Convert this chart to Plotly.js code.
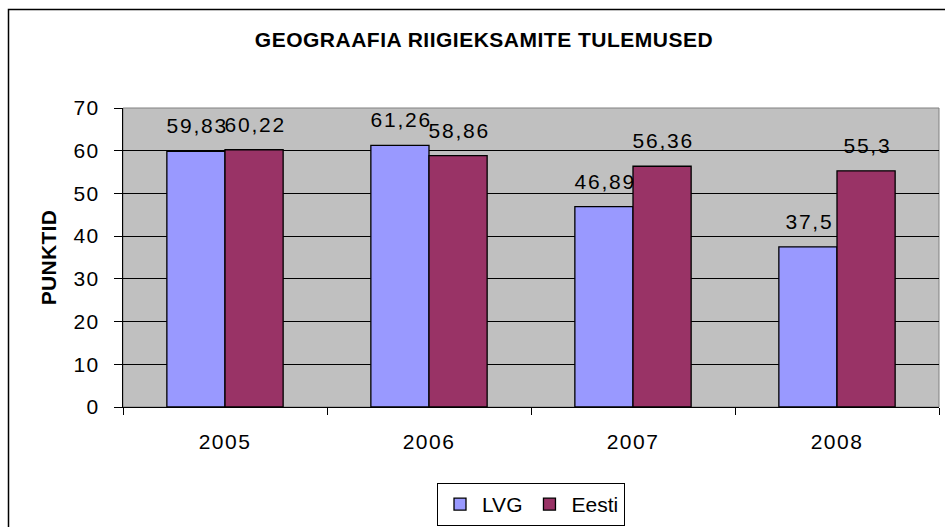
<!DOCTYPE html>
<html>
<head>
<meta charset="utf-8">
<script src="https://cdn.plot.ly/plotly-3.0.1.min.js"></script>
<style>
  html, body { margin: 0; padding: 0; background: #fff; overflow: hidden; }
  #chart { width: 945px; height: 527px; }
  #chart svg .annotation-text { letter-spacing: 1.8px; }
  #chart svg .xtick text, #chart svg .ytick text { letter-spacing: 1.5px; }
  #chart svg .gtitle { letter-spacing: 0.5px; }
  #chart svg .ytitle { letter-spacing: 0.3px; }
</style>
</head>
<body>
<div id="chart"></div>
<script>
const years = ['2005', '2006', '2007', '2008'];
const lvgValues = [59.83, 61.26, 46.89, 37.5];
const eestiValues = [60.22, 58.86, 56.36, 55.3];
const seriesNames = ['LVG', 'Eesti'];
const yTicks = [0, 10, 20, 30, 40, 50, 60, 70];

const fontFamily = 'Liberation Sans, Arial, sans-serif';
const labelFont = { family: fontFamily, size: 21, color: '#000' };
const fmt = v => String(v).replace('.', ',');

const traces = [
  {
    type: 'bar', name: seriesNames[0], x: years, y: lvgValues,
    marker: { color: '#9999FF', line: { color: '#000', width: 1.3 } },
    hoverinfo: 'none'
  },
  {
    type: 'bar', name: seriesNames[1], x: years, y: eestiValues,
    marker: { color: '#993366', line: { color: '#000', width: 1.3 } },
    hoverinfo: 'none'
  }
];

const barHalf = 29;
const annotations = [];
years.forEach((yr, i) => {
  annotations.push({ x: i, y: lvgValues[i], xref: 'x', yref: 'y', text: fmt(lvgValues[i]),
    showarrow: false, yanchor: 'bottom', xanchor: 'center', xshift: -barHalf + 1, yshift: 12, font: labelFont });
  annotations.push({ x: i, y: eestiValues[i], xref: 'x', yref: 'y', text: fmt(eestiValues[i]),
    showarrow: false, yanchor: 'bottom', xanchor: 'center', xshift: barHalf + 1, yshift: 12, font: labelFont });
});

const layout = {
  width: 945, height: 527,
  margin: { l: 123, r: 6, t: 108, b: 120, autoexpand: false },
  paper_bgcolor: '#fff', plot_bgcolor: '#C0C0C0',
  font: { family: fontFamily, color: '#000' },
  title: {
    text: '<b>GEOGRAAFIA RIIGIEKSAMITE TULEMUSED</b>',
    font: { family: fontFamily, size: 21, color: '#000' },
    x: 484 / 945, xref: 'container', xanchor: 'center',
    y: 1 - 40 / 527, yref: 'container', yanchor: 'middle'
  },
  barmode: 'group', bargap: 0.43, bargroupgap: 0,
  showlegend: true,
  legend: {
    orientation: 'h', x: 0.5, xanchor: 'center', y: -0.254, yanchor: 'top',
    bgcolor: '#fff', bordercolor: '#000', borderwidth: 1,
    font: { family: fontFamily, size: 21, color: '#000' },
    itemwidth: 34, tracegroupgap: 0
  },
  xaxis: {
    type: 'category', range: [-0.5, 3.5], showgrid: false, zeroline: false,
    showline: true, linecolor: '#000', linewidth: 1,
    ticks: 'outside', tickson: 'boundaries', ticklen: 7, tickcolor: '#000',
    tickfont: { family: fontFamily, size: 21, color: '#000' },
    ticklabelstandoff: 16
  },
  yaxis: {
    range: [0, 70], tickvals: yTicks, showgrid: true, gridcolor: '#000', gridwidth: 1,
    zeroline: false, showline: true, linecolor: '#000', linewidth: 1,
    ticks: 'outside', ticklen: 8, tickcolor: '#000',
    tickfont: { family: fontFamily, size: 21, color: '#000' },
    ticklabelstandoff: 10,
    title: { text: '<b>PUNKTID</b>', font: { family: fontFamily, size: 21, color: '#000' }, standoff: 14 }
  },
  annotations: annotations,
  shapes: [
    { type: 'rect', xref: 'paper', yref: 'paper', x0: 0, x1: 1, y0: 0, y1: 1,
      line: { color: '#808080', width: 1 }, layer: 'below' },
    { type: 'rect', xref: 'paper', yref: 'paper', x0: (8.5 - 123) / 816, x1: 1.2, y0: -0.6, y1: (408 - 10.5) / 299,
      line: { color: '#000', width: 1.5 }, fillcolor: 'rgba(0,0,0,0)' }
  ]
};

Plotly.newPlot('chart', traces, layout, { displayModeBar: false, staticPlot: true });
</script>
</body>
</html>
